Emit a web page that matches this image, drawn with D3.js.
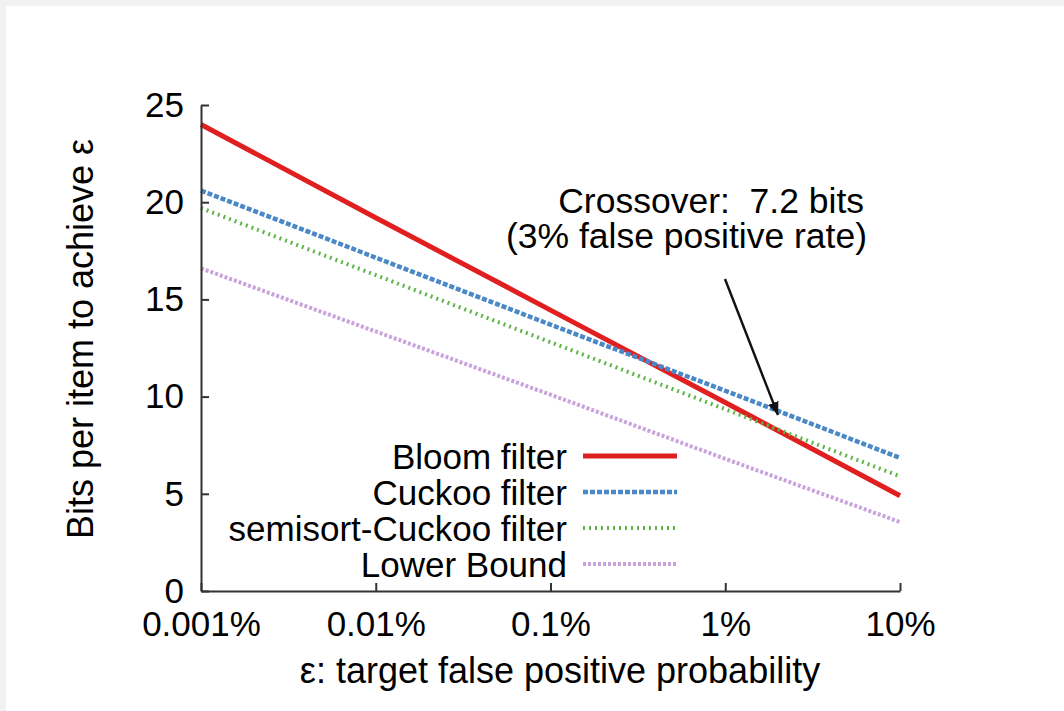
<!DOCTYPE html>
<html>
<head>
<meta charset="utf-8">
<script src="https://cdn.jsdelivr.net/npm/d3@7"></script>
<style>
    html, body { margin: 0; padding: 0; background: #f2f2f2; }
    svg { display: block; }
    text { font-family: "Liberation Sans", Arial, Helvetica, sans-serif; fill: #000; }
    .axis path, .axis line { stroke: #333; stroke-width: 2; }
    .axis text { font-size: 35px; }
</style>
</head>
<body>
<svg id="chart"></svg>
<script>
// false positive rates, in percent
const epsilon = [0.001, 0.01, 0.1, 1, 10];
const xTickLabels = ['0.001%', '0.01%', '0.1%', '1%', '10%'];
const yTicks = [0, 5, 10, 15, 20, 25];

// bits per item at each decade
const bloomBits = [24.0, 19.2, 14.45, 9.7, 4.9];
const cuckooBits = [20.6, 17.15, 13.7, 10.3, 6.85];
const semisortBits = [19.7, 16.25, 12.8, 9.35, 5.9];
const lowerBoundBits = [16.6, 13.35, 10.1, 6.8, 3.55];

const seriesNames = ['Bloom filter', 'Cuckoo filter', 'semisort-Cuckoo filter', 'Lower Bound'];

const width = 1064, height = 711;
const margin = {top: 105, left: 201, right: 164, bottom: 120};

const styles = [
    {color: '#e02020', width: 5, dash: null},
    {color: '#4a88c8', width: 4.5, dash: '5 2'},
    {color: '#5fb548', width: 4, dash: '2 4'},
    {color: '#c9a3dc', width: 4, dash: '3 2'},
];

const series = [bloomBits, cuckooBits, semisortBits, lowerBoundBits].map((vals, i) => ({
    name: seriesNames[i],
    style: styles[i],
    points: vals.map((v, j) => ({x: epsilon[j], y: v})),
}));

const svg = d3.select('#chart')
    .attr('width', width)
    .attr('height', height);

svg.append('rect')
    .attr('x', 6).attr('y', 6)
    .attr('width', width - 6).attr('height', height - 6)
    .attr('fill', '#fff');

const x = d3.scaleLog()
    .domain([0.001, 10])
    .range([margin.left, width - margin.right]);

const y = d3.scaleLinear()
    .domain([0, 25])
    .range([height - margin.bottom, margin.top]);

// series lines
const line = d3.line()
    .x(d => x(d.x))
    .y(d => y(d.y));

svg.append('g')
  .selectAll('path')
    .data(series)
  .enter().append('path')
    .attr('d', d => line(d.points))
    .attr('fill', 'none')
    .attr('stroke', d => d.style.color)
    .attr('stroke-width', d => d.style.width)
    .attr('stroke-dasharray', d => d.style.dash);

// axes
svg.append('g')
    .attr('class', 'axis axis-x')
    .attr('transform', 'translate(0,' + y(0) + ')')
    .call(d3.axisBottom(x)
        .tickValues(epsilon)
        .tickFormat((d, i) => xTickLabels[i])
        .tickSizeInner(-8)
        .tickSizeOuter(0)
        .tickPadding(20));

svg.append('g')
    .attr('class', 'axis axis-y')
    .attr('transform', 'translate(' + x(0.001) + ',0)')
    .call(d3.axisLeft(y)
        .tickValues(yTicks)
        .tickSizeInner(-8)
        .tickSizeOuter(0)
        .tickPadding(17));

svg.selectAll('.axis text').attr('font-family', null);

// axis titles
svg.append('text')
    .attr('transform', 'translate(93,339) rotate(-90)')
    .attr('text-anchor', 'middle')
    .style('font-size', '36px')
    .text('Bits per item to achieve ε');

svg.append('text')
    .attr('x', 560)
    .attr('y', 683)
    .attr('text-anchor', 'middle')
    .style('font-size', '36px')
    .text('ε: target false positive probability');

// legend
const legend = svg.append('g')
  .selectAll('g')
    .data(series)
  .enter().append('g')
    .attr('transform', (d, i) => 'translate(0,' + (456 + i * 36) + ')');

legend.append('text')
    .attr('x', 567)
    .attr('y', 12.5)
    .attr('text-anchor', 'end')
    .style('font-size', '35px')
    .text(d => d.name);

legend.append('line')
    .attr('x1', 583).attr('x2', 677)
    .attr('stroke', d => d.style.color)
    .attr('stroke-width', d => d.style.width)
    .attr('stroke-dasharray', d => d.style.dash);

// crossover annotation
svg.append('defs').append('marker')
    .attr('id', 'arrow')
    .attr('viewBox', '0 0 10 10')
    .attr('refX', 10).attr('refY', 5)
    .attr('markerWidth', 13).attr('markerHeight', 11)
    .attr('markerUnits', 'userSpaceOnUse')
    .attr('orient', 'auto')
    .attr('preserveAspectRatio', 'none')
  .append('path')
    .attr('d', 'M0,0L10,5L0,10Z')
    .attr('fill', '#111');

svg.append('line')
    .attr('x1', 725).attr('y1', 279)
    .attr('x2', 778).attr('y2', 415)
    .attr('stroke', '#111')
    .attr('stroke-width', 2.4)
    .attr('marker-end', 'url(#arrow)');

const note = svg.append('text')
    .attr('text-anchor', 'end')
    .style('font-size', '35.5px');
note.append('tspan').attr('x', 864).attr('y', 213).attr('xml:space', 'preserve').text('Crossover:  7.2 bits');
note.append('tspan').attr('x', 867).attr('y', 248).text('(3% false positive rate)');
</script>
</body>
</html>
